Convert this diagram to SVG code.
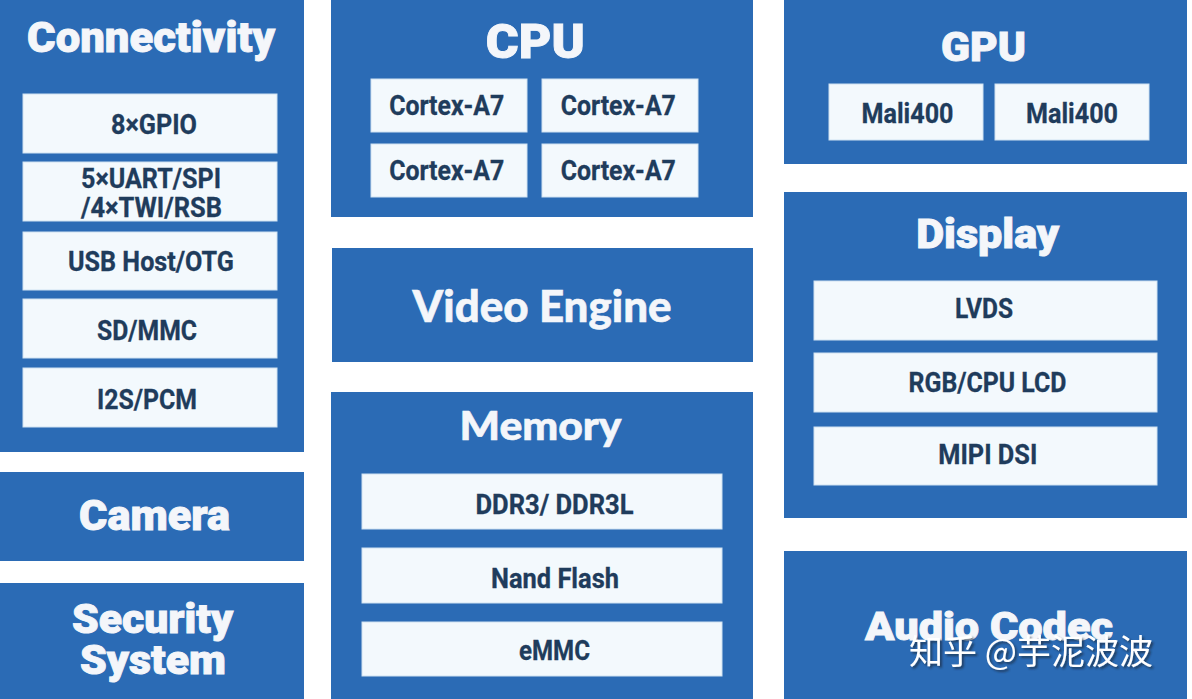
<svg xmlns="http://www.w3.org/2000/svg" width="1192" height="699" viewBox="0 0 1192 699">
<style>
.blk{fill:#2b6bb5}
.sub{fill:#f3f9fd;stroke:#cfe2f2;stroke-width:1}
.ttl{font-family:Roboto,"Liberation Sans",sans-serif;font-weight:900;fill:#f4f6fa;stroke:#f4f6fa;stroke-width:0.9;text-anchor:middle}
.ttl2{font-family:Lato,"Liberation Sans",sans-serif;font-weight:900;fill:#f4f6fa;stroke:#f4f6fa;stroke-width:0.6;text-anchor:middle}
.lbl{font-family:Roboto,"Liberation Sans",sans-serif;font-weight:700;font-size:27px;fill:#1f3c5c;stroke:#1f3c5c;stroke-width:0.3;text-anchor:middle}
.wm{font-family:"Noto Sans CJK SC","Noto Sans",sans-serif;font-size:34px;fill:#ffffff;text-anchor:middle}
</style>
<defs>
<filter id="sh" x="-10%" y="-30%" width="120%" height="160%">
<feDropShadow dx="2" dy="2" stdDeviation="1.2" flood-color="#1a2a3a" flood-opacity="0.7"/>
</filter>
</defs>
<rect width="1192" height="699" fill="#ffffff"/>

<g id="connectivity">
<rect class="blk" x="0" y="0" width="304" height="452"/>
<text class="ttl" x="151" y="52" font-size="43" textLength="248" lengthAdjust="spacingAndGlyphs">Connectivity</text>
<rect class="sub" x="23" y="94" width="254" height="59"/>
<text class="lbl" x="154" y="134" textLength="86" lengthAdjust="spacingAndGlyphs">8×GPIO</text>
<rect class="sub" x="23" y="162" width="254" height="59"/>
<text class="lbl" x="151" y="188" textLength="140" lengthAdjust="spacingAndGlyphs">5×UART/SPI</text>
<text class="lbl" x="151.5" y="217" textLength="141" lengthAdjust="spacingAndGlyphs">/4×TWI/RSB</text>
<rect class="sub" x="23" y="232" width="254" height="58"/>
<text class="lbl" x="151" y="271" textLength="166" lengthAdjust="spacingAndGlyphs">USB Host/OTG</text>
<rect class="sub" x="23" y="299" width="254" height="59"/>
<text class="lbl" x="147" y="340" textLength="100" lengthAdjust="spacingAndGlyphs">SD/MMC</text>
<rect class="sub" x="23" y="368" width="254" height="59"/>
<text class="lbl" x="147" y="409" textLength="100" lengthAdjust="spacingAndGlyphs">I2S/PCM</text>
</g>

<g id="camera">
<rect class="blk" x="0" y="472" width="304" height="89"/>
<text class="ttl" x="154.5" y="530" font-size="42" textLength="151" lengthAdjust="spacingAndGlyphs">Camera</text>
</g>

<g id="security">
<rect class="blk" x="0" y="583" width="304" height="116"/>
<text class="ttl" x="152.5" y="633" font-size="40" textLength="161" lengthAdjust="spacingAndGlyphs">Security</text>
<text class="ttl" x="153" y="674" font-size="40" textLength="146" lengthAdjust="spacingAndGlyphs">System</text>
</g>

<g id="cpu">
<rect class="blk" x="331" y="0" width="422" height="217"/>
<text class="ttl" x="535.3" y="58" font-size="49" textLength="99" lengthAdjust="spacingAndGlyphs">CPU</text>
<rect class="sub" x="371" y="79" width="156" height="53"/>
<text class="lbl" x="446.7" y="115" textLength="115" lengthAdjust="spacingAndGlyphs">Cortex-A7</text>
<rect class="sub" x="542" y="79" width="156" height="53"/>
<text class="lbl" x="618.3" y="115" textLength="115" lengthAdjust="spacingAndGlyphs">Cortex-A7</text>
<rect class="sub" x="371" y="144" width="156" height="53"/>
<text class="lbl" x="446.7" y="180" textLength="115" lengthAdjust="spacingAndGlyphs">Cortex-A7</text>
<rect class="sub" x="542" y="144" width="156" height="53"/>
<text class="lbl" x="618.3" y="180" textLength="115" lengthAdjust="spacingAndGlyphs">Cortex-A7</text>
</g>

<g id="video-engine">
<rect class="blk" x="332" y="248" width="421" height="114"/>
<text class="ttl2" x="542" y="322" font-size="44" textLength="259" lengthAdjust="spacingAndGlyphs">Video Engine</text>
</g>

<g id="memory">
<rect class="blk" x="331" y="392" width="422" height="307"/>
<text class="ttl2" x="540.5" y="440" font-size="39" textLength="162" lengthAdjust="spacingAndGlyphs">Memory</text>
<rect class="sub" x="362" y="474" width="360" height="55"/>
<text class="lbl" x="554.5" y="514" textLength="158" lengthAdjust="spacingAndGlyphs">DDR3/ DDR3L</text>
<rect class="sub" x="362" y="548" width="360" height="55"/>
<text class="lbl" x="555" y="588" textLength="128" lengthAdjust="spacingAndGlyphs">Nand Flash</text>
<rect class="sub" x="362" y="622" width="360" height="54"/>
<text class="lbl" x="554.5" y="660" textLength="71" lengthAdjust="spacingAndGlyphs">eMMC</text>
</g>

<g id="gpu">
<rect class="blk" x="784" y="0" width="403" height="164"/>
<text class="ttl" x="983.5" y="61" font-size="40" textLength="85" lengthAdjust="spacingAndGlyphs">GPU</text>
<rect class="sub" x="829" y="84" width="154" height="56"/>
<text class="lbl" x="907.5" y="123" textLength="92" lengthAdjust="spacingAndGlyphs">Mali400</text>
<rect class="sub" x="995" y="84" width="154" height="56"/>
<text class="lbl" x="1072" y="123" textLength="92" lengthAdjust="spacingAndGlyphs">Mali400</text>
</g>

<g id="display">
<rect class="blk" x="784" y="192" width="403" height="326"/>
<text class="ttl" x="987.7" y="248" font-size="41" textLength="143" lengthAdjust="spacingAndGlyphs">Display</text>
<rect class="sub" x="814" y="281" width="343" height="59"/>
<text class="lbl" x="984" y="318" textLength="58" lengthAdjust="spacingAndGlyphs">LVDS</text>
<rect class="sub" x="814" y="353" width="343" height="59"/>
<text class="lbl" x="987.5" y="392" textLength="158" lengthAdjust="spacingAndGlyphs">RGB/CPU LCD</text>
<rect class="sub" x="814" y="427" width="343" height="58"/>
<text class="lbl" x="987.8" y="464" textLength="99" lengthAdjust="spacingAndGlyphs">MIPI DSI</text>
</g>

<g id="audio-codec">
<rect class="blk" x="784" y="551" width="403" height="148"/>
<text class="ttl" x="989" y="640" font-size="39" textLength="248" lengthAdjust="spacingAndGlyphs">Audio Codec</text>
</g>

<g id="connectors"></g>

<text class="wm" x="1031" y="664" filter="url(#sh)">知乎 @芋泥波波</text>
</svg>
